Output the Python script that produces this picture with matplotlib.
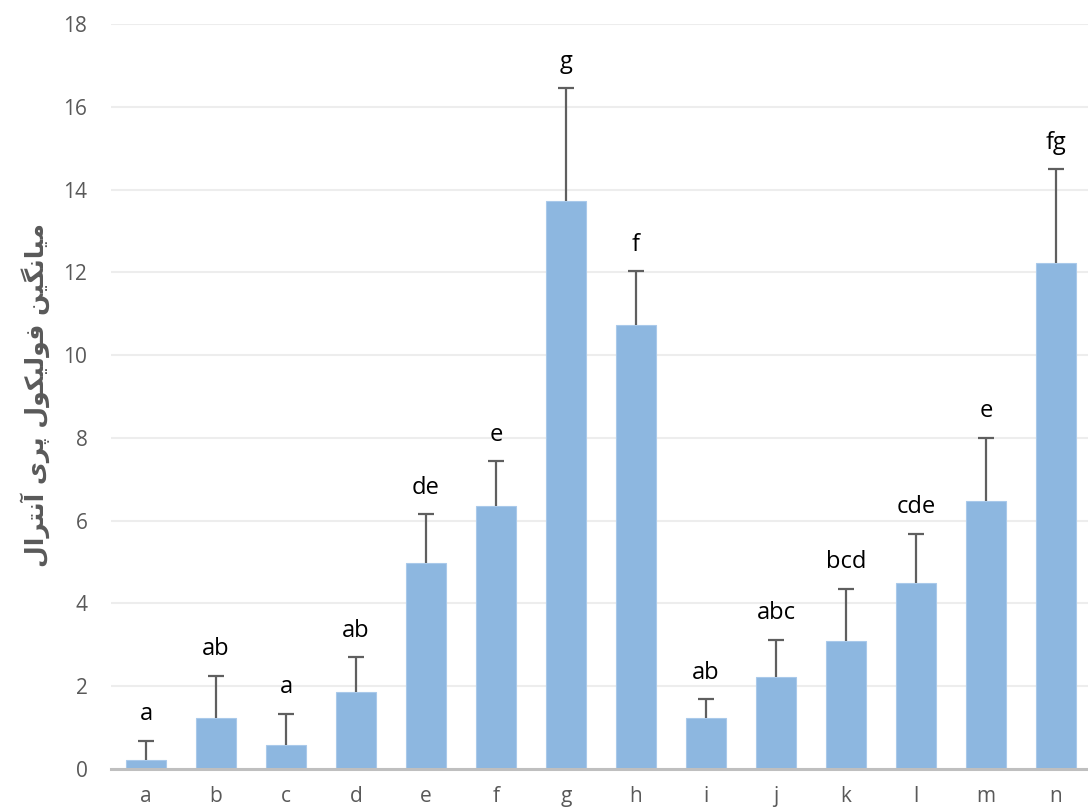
import matplotlib
matplotlib.use("Agg")
import matplotlib.pyplot as plt
import numpy as np

groups = ['a', 'b', 'c', 'd', 'e', 'f', 'g', 'h', 'i', 'j', 'k', 'l', 'm', 'n']
means = [0.22, 1.23, 0.58, 1.86, 4.98, 6.35, 13.72, 10.72, 1.23, 2.22, 3.09, 4.49, 6.47, 12.22]
errors = [0.46, 1.02, 0.75, 0.84, 1.18, 1.09, 2.73, 1.31, 0.46, 0.90, 1.26, 1.19, 1.53, 2.27]
letters = ['a', 'ab', 'a', 'ab', 'de', 'e', 'g', 'f', 'ab', 'abc', 'bcd', 'cde', 'e', 'fg']

# matplotlib has no Arabic shaping, so the label is written with
# presentation forms already in visual (left-to-right) order
ylabel = ('\uFEDD\uFE8D\uFEAE\uFE98\uFEE7\uFE81'
          ' \uFBFC\uFEAE\uFB58'
          ' \uFEDD\uFEEE\uFB91\uFBFF\uFEDF\uFEEE\uFED3'
          ' \uFEE6\uFBFF\uFB95\uFEE7\uFE8E\uFBFF\uFEE3')

plt.rcParams['font.family'] = ['Open Sans', 'DejaVu Sans']

fig = plt.figure(figsize=(10.88, 8.11), dpi=100)
ax = fig.add_axes([111 / 1088, 1 - 769 / 811, 980 / 1088, 745 / 811])

x = np.arange(len(groups))
ax.bar(x, means, width=0.56, color='#8DB7E0', edgecolor='#A9C9EA', linewidth=0.8, zorder=3)
eb = ax.errorbar(x, means, yerr=[np.zeros(len(x)), errors], fmt='none',
                 ecolor='#5f5f5f', elinewidth=1.6, capsize=6, capthick=1.6, zorder=4)
# only the upper cap is wanted
eb[1][0].set_visible(False)

for xi, m, e, t in zip(x, means, errors, letters):
    ax.text(xi, m + e + 0.35, t, ha='center', va='bottom', fontsize=17, color='black')

ax.set_xlim(-0.5, len(groups) - 0.5)
ax.set_ylim(0, 18)
ax.set_yticks(range(0, 19, 2))
ax.set_xticks(x)
ax.set_xticklabels(groups)
ax.tick_params(axis='both', length=0, labelsize=15, colors='#595959')
ax.tick_params(axis='y', pad=17)
ax.tick_params(axis='x', pad=12)
ax.yaxis.grid(True, color='#EDEDED', linewidth=1.5, zorder=0)
for s in ['top', 'right', 'left']:
    ax.spines[s].set_visible(False)
ax.spines['bottom'].set_color('#BFBFBF')
ax.spines['bottom'].set_linewidth(2.2)
ax.spines['bottom'].set_zorder(5)

fig.text(35 / 1088, 1 - 395 / 811, ylabel, rotation=90, ha='center', va='center',
         fontsize=18, fontweight='bold', color='#595959', family='DejaVu Sans')

fig.savefig('out.png', dpi=100)
